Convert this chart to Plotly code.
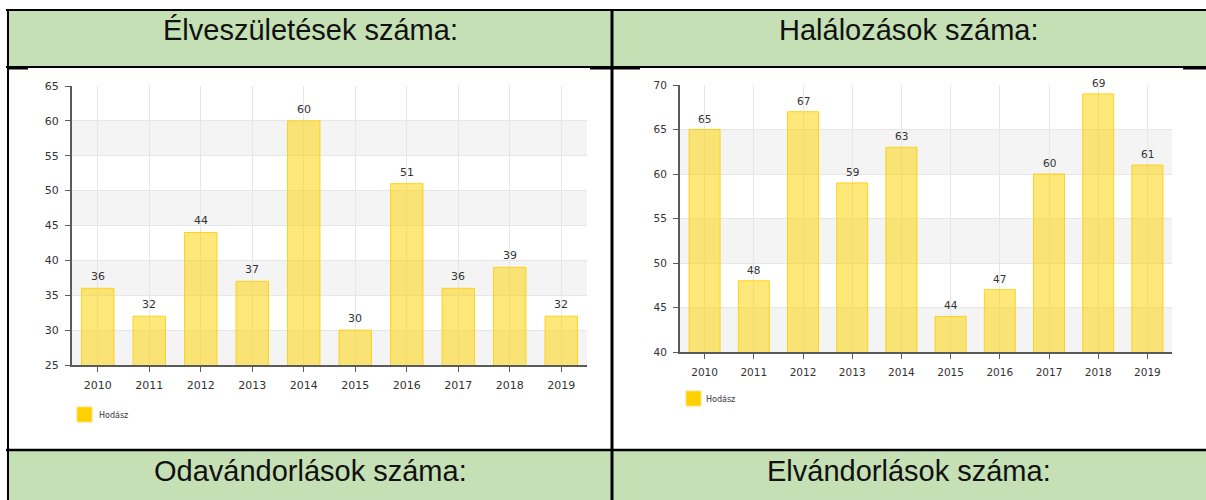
import plotly.graph_objects as go

# ---------------- data ----------------
years = ["2010", "2011", "2012", "2013", "2014", "2015", "2016", "2017", "2018", "2019"]
births = [36, 32, 44, 37, 60, 30, 51, 36, 39, 32]
deaths = [65, 48, 67, 59, 63, 44, 47, 60, 69, 61]
series_name = "Hodász"
top_titles = ["Élveszületések száma:", "Halálozások száma:"]
bottom_titles = ["Odavándorlások száma:", "Elvándorlások száma:"]
births_range = [25, 65]
deaths_range = [40, 70]
tick_step = 5

# ---------------- geometry helpers ----------------
W, H = 1206, 500


def px(x):
    return x / W


def py(y):
    return 1 - y / H


GREEN = "#C5E0B4"
BAR_FILL = "rgba(255,210,0,0.52)"
BAR_LINE = "rgba(255,205,0,0.85)"
GRID = "#e6e6e6"
AXIS = "#5a5a5a"
TXT = "#333333"
TICKFONT = "DejaVu Sans"

fig = go.Figure()

fig.add_trace(go.Bar(
    x=years, y=births, name=series_name, xaxis="x", yaxis="y",
    marker=dict(color=BAR_FILL, line=dict(color=BAR_LINE, width=1)),
    showlegend=False,
))
fig.add_trace(go.Bar(
    x=years, y=deaths, name=series_name, xaxis="x2", yaxis="y2",
    marker=dict(color=BAR_FILL, line=dict(color=BAR_LINE, width=1)),
    showlegend=False,
))


def xaxis_cfg(domain, anchor, size):
    return dict(
        domain=domain, anchor=anchor, type="category",
        categoryorder="array", categoryarray=years,
        range=[-0.5, len(years) - 0.5], automargin=False,
        showgrid=True, gridcolor=GRID, gridwidth=1,
        ticks="outside", ticklen=5, tickcolor=AXIS, tickwidth=1,
        showline=True, linecolor=AXIS, linewidth=2,
        tickfont=dict(family=TICKFONT, size=size, color=TXT),
        ticklabelstandoff=4, fixedrange=True,
    )


def yaxis_cfg(domain, anchor, rng, size):
    return dict(
        domain=domain, anchor=anchor, range=rng, tick0=rng[0], dtick=tick_step,
        automargin=False,
        showgrid=True, gridcolor=GRID, gridwidth=1, zeroline=False,
        ticks="outside", ticklen=5, tickcolor=AXIS, tickwidth=1,
        showline=True, linecolor=AXIS, linewidth=2,
        tickfont=dict(family=TICKFONT, size=size, color=TXT),
        ticklabelstandoff=4, fixedrange=True,
    )


shapes = []
annotations = []

# ---------------- table cells ----------------
cells = [
    (7, 611, 10, 67), (611, 1206, 10, 67),
    (7, 611, 450, 500), (611, 1206, 450, 500),
]
for x0, x1, y0, y1 in cells:
    shapes.append(dict(type="rect", xref="paper", yref="paper",
                       x0=px(x0), x1=px(x1), y0=py(y1), y1=py(y0),
                       fillcolor=GREEN, line=dict(width=0), layer="below"))

# borders
border_lines = [
    (6, 10, 1206, 10, 2),
    (6, 67, 1206, 67, 2),
    (6, 450, 1206, 450, 2.5),
    (8, 9, 8, 500, 2),
    (612, 9, 612, 500, 3),
    (8, 68.5, 28, 68.5, 2),
    (590, 68.5, 612, 68.5, 2),
    (612, 68.5, 640, 68.5, 2),
    (1183, 68.5, 1206, 68.5, 2),
]
for x0, y0, x1, y1, w in border_lines:
    shapes.append(dict(type="line", xref="paper", yref="paper",
                       x0=px(x0), x1=px(x1), y0=py(y0), y1=py(y1),
                       line=dict(color="black", width=w), layer="above"))

# header titles
for title, cx in zip(top_titles, [310, 909]):
    annotations.append(dict(text=title, xref="paper", yref="paper",
                            x=px(cx), y=py(30), xanchor="center", yanchor="middle",
                            showarrow=False,
                            font=dict(family="Liberation Sans", size=29, color="#111111")))
for title, cx in zip(bottom_titles, [310, 909]):
    annotations.append(dict(text=title, xref="paper", yref="paper",
                            x=px(cx), y=py(471), xanchor="center", yanchor="middle",
                            showarrow=False,
                            font=dict(family="Liberation Sans", size=29, color="#111111")))

# ---------------- alternating bands ----------------
for yref, rng in (("y", births_range), ("y2", deaths_range)):
    xref = "x domain" if yref == "y" else "x2 domain"
    lo = rng[0]
    while lo < rng[1]:
        shapes.append(dict(type="rect", xref=xref, yref=yref, x0=0, x1=1,
                           y0=lo, y1=min(lo + tick_step, rng[1]),
                           fillcolor="#f4f4f4", line=dict(width=0), layer="below"))
        lo += 2 * tick_step

# ---------------- value labels (category index positions) ----------------
for xr, yr, vals, size in (("x", "y", births, 11), ("x2", "y2", deaths, 10.5)):
    for i, v in enumerate(vals):
        annotations.append(dict(text=str(v), xref=xr, yref=yr, x=i, y=v,
                                xanchor="center", yanchor="bottom", yshift=3,
                                showarrow=False,
                                font=dict(family=TICKFONT, size=size, color=TXT)))

# ---------------- legends ----------------
for sx0, sy0, ssize, tx, ty in ((77, 407, 15, 97, 415), (686, 391, 15, 704, 399)):
    shapes.append(dict(type="rect", xref="paper", yref="paper",
                       x0=px(sx0), x1=px(sx0 + ssize), y0=py(sy0 + ssize), y1=py(sy0),
                       fillcolor="#FFD000", line=dict(color="#FFE066", width=1),
                       layer="above"))
    annotations.append(dict(text=series_name, xref="paper", yref="paper",
                            x=px(tx), y=py(ty), xanchor="left", yanchor="middle",
                            showarrow=False,
                            font=dict(family=TICKFONT, size=8, color="#3a3340")))

fig.update_layout(
    width=W, height=H,
    margin=dict(l=0, r=0, t=0, b=0, pad=0, autoexpand=False),
    paper_bgcolor="white", plot_bgcolor="rgba(0,0,0,0)",
    bargap=0.37,
    showlegend=False,
    xaxis=xaxis_cfg([px(72), px(587)], "y", 11),
    yaxis=yaxis_cfg([py(365), py(86)], "x", births_range, 11),
    xaxis2=xaxis_cfg([px(680), px(1172)], "y2", 10.5),
    yaxis2=yaxis_cfg([py(352), py(85)], "x2", deaths_range, 10.5),
    shapes=shapes,
    annotations=annotations,
)

fig.write_html(
    "out.html",
    config={"displayModeBar": False},
    post_script="document.body.style.margin='0';document.body.style.overflow='hidden';",
)
